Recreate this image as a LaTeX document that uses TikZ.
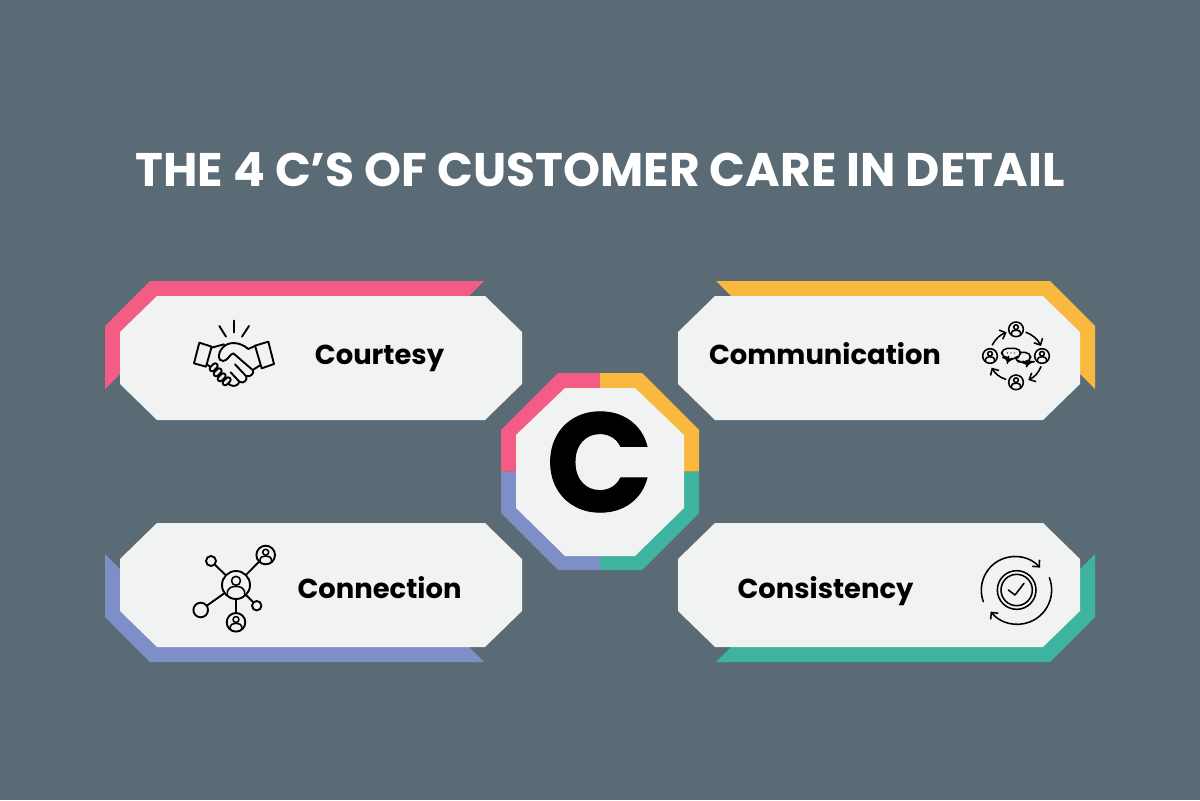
\documentclass[tikz,border=0pt]{standalone}
\usepackage{fontspec}
\setmainfont{Poppins}
\newfontfamily\heavyfont{Poppins}[BoldFeatures={FakeBold=0.6}]
\usetikzlibrary{arrows.meta}
\definecolor{slatebg}{HTML}{5A6B76}
\definecolor{panelwhite}{HTML}{F1F3F3}
\definecolor{rosepink}{HTML}{F25C85}
\definecolor{sunyellow}{HTML}{F9B93E}
\definecolor{seateal}{HTML}{3EB39F}
\definecolor{periwinkle}{HTML}{7E8FC7}
\tikzset{
	icon/.style={line width=1.35pt, line join=round, line cap=round, black},
	fineicon/.style={line width=1.1pt, line join=round, line cap=round, black},
	barb/.style={-{Straight Barb[length=3.6pt,width=7pt]}},
	dot/.style={circle, draw=black, line width=1.35pt, inner sep=0pt, fill=panelwhite},
	label/.style={anchor=base, font=\bfseries\fontsize{19.5}{24}\selectfont, text=black},
}
\def\personbody(#1)(#2){
	\begin{scope}[shift={(#1)},scale=#2]
		\draw[fineicon] (0,-0.3) circle (0.32);
		\draw[fineicon] (-0.62,0.72) .. controls (-0.68,0.2) and (-0.3,0.1) .. (0,0.1) .. controls (0.3,0.1) and (0.68,0.2) .. (0.62,0.72);
	\end{scope}
}
\def\personmark(#1)(#2){
	\draw[fineicon] (#1) circle (#2);
	\personbody(#1)(#2)
}

\begin{document}
\begin{tikzpicture}[x=0.025cm, y=-0.025cm]
		\useasboundingbox (0, 0) rectangle (1200, 800);
		\fill[slatebg] (0, 0) rectangle (1200, 800);
		
		\node[anchor=base, text=white, font=\bfseries\fontsize{33.5}{40}\selectfont] (title) at (600, 187) {THE 4 C’S OF CUSTOMER CARE IN DETAIL};
		
		%%%%% PANELS %%%%%
		\foreach \sx/\sy/\col in {1/1/rosepink, -1/1/sunyellow, 1/-1/periwinkle, -1/-1/seateal} {
			\begin{scope}[shift={(600, 471.5)}, xscale=\sx, yscale=\sy]
				\fill[\col] (-495, -145.5) -- (-450, -190.5) -- (-116, -190.5) -- (-131, -175.5) -- (-443, -175.5) -- (-480, -139.5) -- (-480, -97.5) -- (-495, -82.5) -- cycle;
				\fill[panelwhite] (-443, -175.5) -- (-115, -175.5) -- (-78, -139.5) -- (-78, -87.5) -- (-115, -51.5) -- (-443, -51.5) -- (-480, -87.5) -- (-480, -139.5) -- cycle;
				\fill[\col] (0, 0) -- (0, -98.5) -- (-42, -98.5) -- (-99, -41.5) -- (-99, 0) -- cycle;
			\end{scope}
		}
		
		%%%%% CENTRE %%%%%
		\fill[panelwhite] (565, 388) -- (635, 388) -- (684, 435) -- (684, 508) -- (635, 556) -- (565, 556) -- (516, 508) -- (516, 435) -- cycle;
		\node[font=\heavyfont\bfseries\fontsize{100}{110}\selectfont, text=black] (bigc) at (599.5, 462) {C};
		
		\node[label] (courtesy) at (379.5, 364) {Courtesy};
		\node[label] (communication) at (825, 364) {Communication};
		\node[label] (connection) at (379.5, 598) {Connection};
		\node[label] (consistency) at (825.5, 598) {Consistency};
		
		%%%%% HANDSHAKE %%%%%
		\begin{scope}[shift={(100, 275)}, scale=1/3]
			\draw[icon] (298, 203) -- (335, 215) -- (318, 275) -- (282, 265) -- cycle;
			\draw[icon] (465, 212) -- (505, 200) -- (522, 267) -- (485, 280) -- cycle;
			\draw[icon] (358, 153) -- (378, 185);
			\draw[icon] (402, 137) -- (402, 172);
			\draw[icon] (447, 153) -- (426, 185);
			\draw[icon] (335, 218) -- (372, 208);
			\draw[icon] (320, 268) -- (332, 276);
			\draw[icon] (467, 212) -- (445, 222) .. controls (420, 200) and (385, 198) .. (368, 218) .. controls (352, 236) and (352, 258) .. (370, 258) .. controls (385, 256) and (388, 238) .. (400, 235) -- (458, 285) .. controls (465, 295) and (450, 308) .. (438, 303) -- (405, 268);
			\draw[icon] (438, 303) .. controls (445, 315) and (430, 328) .. (418, 320) -- (392, 292);
			\draw[icon] (418, 320) .. controls (415, 332) and (402, 336) .. (390, 330) -- (378, 318);
			\draw[icon] (458, 285) -- (482, 270);
			\foreach \fx/\fy in {341/277, 353/292, 365/307, 380/319} {
				\draw[icon, fill=panelwhite, shift={(\fx, \fy)}, rotate=45, rounded corners=1.8pt] (-14, -7.5) rectangle (14, 7.5);
			}
		\end{scope}
		
		%%%%% TALK CYCLE %%%%%
		\begin{scope}[shift={(960, 300)}, scale=1/3]
			\personmark(168, 88)(22)
			\personmark(90, 168)(22)
			\personmark(246, 168)(22)
			\personmark(168, 247)(22)
			\draw[fineicon, barb] (97, 135) to[bend left=20] (140, 97);
			\draw[fineicon, barb] (198, 97) to[bend left=20] (243, 138);
			\draw[fineicon, barb] (243, 200) to[bend left=20] (205, 240);
			\draw[fineicon, barb] (137, 238) to[bend left=20] (95, 203);
			\draw[fineicon, fill=panelwhite, rounded corners=4pt] (165, 157) -- (212, 157) -- (212, 185) -- (206, 185) -- (202, 194) -- (190, 185) -- (165, 185) -- cycle;
			\draw[fineicon, fill=panelwhite, rounded corners=4pt] (125, 145) -- (182, 145) -- (182, 173) -- (158, 173) -- (143, 186) -- (145, 173) -- (125, 173) -- cycle;
			\foreach \dx in {142, 153, 164} {
				\fill[black] (\dx, 159) circle (2);
			}
		\end{scope}
		
		%%%%% NETWORK %%%%%
		\node[dot, minimum size=0.7cm] (hub) at (236, 585) {};
		\node[dot, minimum size=0.465cm] (topperson) at (265.7, 555) {};
		\node[dot, minimum size=0.465cm] (lowperson) at (236, 622.3) {};
		\node[dot, minimum size=0.25cm] (smallleft) at (211, 561) {};
		\node[dot, minimum size=0.235cm] (smallright) at (256.7, 605.7) {};
		\node[dot, minimum size=0.365cm] (bigleft) at (200.7, 610) {};
		\foreach \ring in {topperson, lowperson, smallleft, smallright, bigleft} {
			\draw[icon] (hub) -- (\ring);
		}
		\personbody(236, 585)(14)
		\personbody(265.7, 555)(9.3)
		\personbody(236, 622.3)(9.3)
		
		%%%%% CHECK CYCLE %%%%%
		\begin{scope}[shift={(970, 545)}, scale=1/3]
			\draw[fineicon, barb] (40, 170) arc (160:318:101);
			\draw[fineicon, barb] (238, 98) arc (-21:141:103);
			\draw[fineicon] (140, 135) circle (58);
			\draw[fineicon] (140, 135) circle (47);
			\draw[fineicon] (115, 135) -- (135, 150) -- (162, 115);
		\end{scope}
	\end{tikzpicture}
\end{document}
